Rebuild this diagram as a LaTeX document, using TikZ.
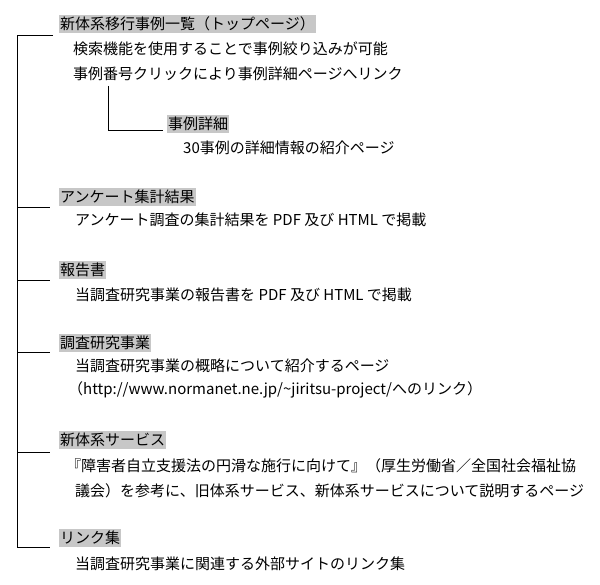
\documentclass[tikz,border=0pt]{standalone}
\usepackage{fontspec}
\setmainfont{Noto Sans CJK JP}
\usetikzlibrary{positioning}
\tikzset{
  head/.style={anchor=west, fill=black!22, inner xsep=1pt, inner ysep=2pt, font=\fontsize{15}{16}\selectfont},
  desc/.style={anchor=west, inner sep=0pt, font=\fontsize{15}{16}\selectfont},
  branch/.style={line width=1pt}
}
\begin{document}
\begin{tikzpicture}[x=1pt,y=-1pt]
  \useasboundingbox (0,0) rectangle (600,585);

  % headings
  \node[head] (top) at (59,24) {新体系移行事例一覧（トップページ）};
  \node[head] (detail) at (167,124) {事例詳細};
  \node[head] (enq) at (59,197) {アンケート集計結果};
  \node[head] (rep) at (59,270) {報告書};
  \node[head] (res) at (59,343) {調査研究事業};
  \node[head] (svc) at (59,440) {新体系サービス};
  \node[head] (link) at (59,538) {リンク集};

  % descriptions
  \node[desc] (topA) at (73,49) {検索機能を使用することで事例絞り込みが可能};
  \node[desc] (topB) at (73,74) {事例番号クリックにより事例詳細ページへリンク};
  \node[desc] (detA) at (183,148) {30事例の詳細情報の紹介ページ};
  \node[desc] (enqA) at (75,220) {アンケート調査の集計結果を PDF 及び HTML で掲載};
  \node[desc] (repA) at (75,295) {当調査研究事業の報告書を PDF 及び HTML で掲載};
  \node[desc] (resA) at (75,366) {当調査研究事業の概略について紹介するページ};
  \node[desc] (resB) at (68,390) {（http://www.normanet.ne.jp/\textasciitilde jiritsu-project/へのリンク）};
  \node[desc] (svcA) at (66,466) {『障害者自立支援法の円滑な施行に向けて』（厚生労働省／全国社会福祉協};
  \node[desc] (svcB) at (75,491) {議会）を参考に、旧体系サービス、新体系サービスについて説明するページ};
  \node[desc] (linkA) at (75,564) {当調査研究事業に関連する外部サイトのリンク集};

  % tree lines
  \coordinate (root) at (17,36);
  \draw[branch] (53,36) -- (root) -- (17,547) -- (50,547);
  \foreach \y in {208,281,353,452}
    \draw[branch] (17,\y) -- (50,\y);
  \draw[branch] (108,86) -- (108,131) -- (163,131);
\end{tikzpicture}
\end{document}
